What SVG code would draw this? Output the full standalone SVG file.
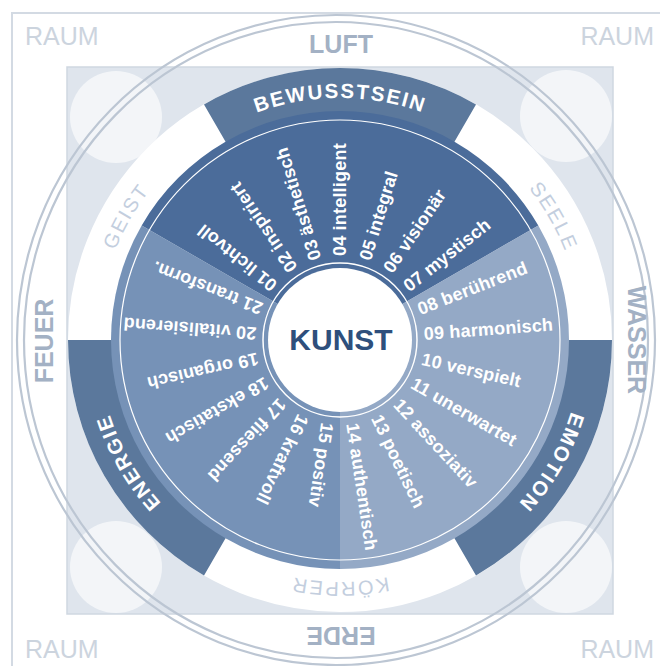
<svg xmlns="http://www.w3.org/2000/svg" width="660" height="666" viewBox="0 0 660 666">
  <style>
    text { font-family: "Liberation Sans", Arial, sans-serif; }
    .frame { fill: none; stroke: #d3dae3; stroke-width: 2; }
    .ring { fill: none; stroke: #bcc6d3; stroke-width: 2.2; }
    .corner { fill: #ffffff; fill-opacity: 0.62; }
    .band { fill: #5b789c; }
    .raum { font-size: 25px; fill: #ccd4de; }
    .elem { font-size: 25px; font-weight: bold; fill: #a3b1c4; }
    .dark-lbl { font-size: 20.5px; font-weight: bold; fill: #ffffff; letter-spacing: 1.8px; }
    .light-lbl { font-size: 20px; fill: #c3cede; letter-spacing: 2px; }
    .seg { font-size: 18px; font-weight: bold; fill: #ffffff; letter-spacing: 0.2px; }
  </style>
  <defs>
    <!-- clockwise baseline arcs (r=242) centred on each band -->
    <path id="arcTop" d="M130.42,219 A242,242 0 0 1 549.58,219"/>
    <path id="arcSeele" d="M340,98 A242,242 0 0 1 549.58,461"/>
    <path id="arcEmotion" d="M549.58,219 A242,242 0 0 1 340,582"/>
    <path id="arcKoerper" d="M549.58,461 A242,242 0 0 1 130.42,461"/>
    <path id="arcEnergie" d="M340,582 A242,242 0 0 1 130.42,219"/>
    <path id="arcGeist" d="M130.42,461 A242,242 0 0 1 340,98"/>
  </defs>

  <rect width="660" height="666" fill="#ffffff"/>

  <!-- outer frame -->
  <g id="frame">
    <path class="frame" d="M12,666 L12,13 L660,13"/>
  </g>

  <!-- inner square with corner discs -->
  <g id="square">
    <rect x="67" y="67" width="546" height="547" fill="#dfe5ed" stroke="#cfd7e1" stroke-width="1.5"/>
    <circle class="corner" cx="116" cy="117" r="46"/>
    <circle class="corner" cx="566" cy="116" r="46"/>
    <circle class="corner" cx="116" cy="567" r="46"/>
    <circle class="corner" cx="566" cy="567" r="46"/>
  </g>

  <!-- double outer ring -->
  <g id="outer-ring">
    <ellipse class="ring" cx="336" cy="340" rx="312" ry="318"/>
    <ellipse class="ring" cx="336" cy="340" rx="319" ry="325"/>
  </g>

  <!-- corner labels -->
  <g id="raum">
    <text class="raum" x="25" y="45">RAUM</text>
    <text class="raum" x="654" y="45" text-anchor="end">RAUM</text>
    <text class="raum" x="25" y="658">RAUM</text>
    <text class="raum" x="654" y="658" text-anchor="end">RAUM</text>
  </g>

  <!-- element labels -->
  <g id="elements">
    <text class="elem" x="341" y="53" text-anchor="middle">LUFT</text>
    <text class="elem" transform="translate(628,340) rotate(90)" text-anchor="middle">WASSER</text>
    <text class="elem" transform="translate(341,627) rotate(180)" text-anchor="middle">ERDE</text>
    <text class="elem" transform="translate(53,341) rotate(-90)" text-anchor="middle">FEUER</text>
  </g>

  <!-- band ring -->
  <g id="bands">
    <circle cx="340" cy="340" r="250" fill="none" stroke="#ffffff" stroke-width="44"/>
    <path id="band-bewusstsein" class="band" d="M204,104.44 A272,272 0 0 1 476,104.44 L454,142.55 A228,228 0 0 0 226,142.55 Z"/>
    <path id="band-emotion" class="band" d="M612,340 A272,272 0 0 1 476,575.56 L454,537.45 A228,228 0 0 0 568,340 Z"/>
    <path id="band-energie" class="band" d="M204,575.56 A272,272 0 0 1 68,340 L112,340 A228,228 0 0 0 226,537.45 Z"/>
    <text class="dark-lbl"><textPath href="#arcTop" startOffset="50%" text-anchor="middle">BEWUSSTSEIN</textPath></text>
    <text class="dark-lbl"><textPath href="#arcEmotion" startOffset="50%" text-anchor="middle">EMOTION</textPath></text>
    <text class="dark-lbl"><textPath href="#arcEnergie" startOffset="50%" text-anchor="middle">ENERGIE</textPath></text>
    <text class="light-lbl"><textPath href="#arcSeele" startOffset="50%" text-anchor="middle">SEELE</textPath></text>
    <text class="light-lbl"><textPath href="#arcKoerper" startOffset="50%" text-anchor="middle">KÖRPER</textPath></text>
    <text class="light-lbl"><textPath href="#arcGeist" startOffset="50%" text-anchor="middle">GEIST</textPath></text>
  </g>

  <!-- segment disc -->
  <g id="segments">
    <path d="M340,340 L141.68,225.5 A229,229 0 0 1 538.32,225.5 Z" fill="#4b6c9a"/>
    <path d="M340,340 L538.32,225.5 A229,229 0 0 1 340,569 Z" fill="#94a9c6"/>
    <path d="M340,340 L340,569 A229,229 0 0 1 141.68,225.5 Z" fill="#7692b7"/>
    <circle cx="340" cy="340" r="220" fill="none" stroke="#ffffff" stroke-width="1.2"/>
    <circle cx="340" cy="340" r="77" fill="none" stroke="#ffffff" stroke-width="1.5"/>
  </g>

  <!-- segment labels, radial -->
  <g id="segment-labels">
    <text class="seg" x="424" y="340" dy=".35em" transform="rotate(218.571 340 340)">01 lichtvoll</text>
    <text class="seg" x="424" y="340" dy=".35em" transform="rotate(235.714 340 340)">02 inspiriert</text>
    <text class="seg" x="424" y="340" dy=".35em" transform="rotate(252.857 340 340)">03 ästhetisch</text>
    <text class="seg" x="424" y="340" dy=".35em" transform="rotate(270 340 340)">04 intelligent</text>
    <text class="seg" x="424" y="340" dy=".35em" transform="rotate(287.143 340 340)">05 integral</text>
    <text class="seg" x="424" y="340" dy=".35em" transform="rotate(304.286 340 340)">06 visionär</text>
    <text class="seg" x="424" y="340" dy=".35em" transform="rotate(321.429 340 340)">07 mystisch</text>
    <text class="seg" x="424" y="340" dy=".35em" transform="rotate(338.571 340 340)">08 berührend</text>
    <text class="seg" x="424" y="340" dy=".35em" transform="rotate(355.714 340 340)">09 harmonisch</text>
    <text class="seg" x="424" y="340" dy=".35em" transform="rotate(12.857 340 340)">10 verspielt</text>
    <text class="seg" x="424" y="340" dy=".35em" transform="rotate(30 340 340)">11 unerwartet</text>
    <text class="seg" x="424" y="340" dy=".35em" transform="rotate(47.143 340 340)">12 assoziativ</text>
    <text class="seg" x="424" y="340" dy=".35em" transform="rotate(64.286 340 340)">13 poetisch</text>
    <text class="seg" x="424" y="340" dy=".35em" transform="rotate(81.429 340 340)">14 authentisch</text>
    <text class="seg" x="424" y="340" dy=".35em" transform="rotate(98.571 340 340)">15 positiv</text>
    <text class="seg" x="424" y="340" dy=".35em" transform="rotate(115.714 340 340)">16 kraftvoll</text>
    <text class="seg" x="424" y="340" dy=".35em" transform="rotate(132.857 340 340)">17 fliessend</text>
    <text class="seg" x="424" y="340" dy=".35em" transform="rotate(150 340 340)">18 ekstatisch</text>
    <text class="seg" x="424" y="340" dy=".35em" transform="rotate(167.143 340 340)">19 organisch</text>
    <text class="seg" x="424" y="340" dy=".35em" transform="rotate(184.286 340 340)">20 vitalisierend</text>
    <text class="seg" x="424" y="340" dy=".35em" transform="rotate(201.429 340 340)">21 transform.</text>
  </g>

  <!-- centre -->
  <g id="kunst">
    <circle cx="340" cy="340" r="72" fill="#ffffff"/>
    <text x="341" y="350" text-anchor="middle" font-size="30" font-weight="bold" fill="#2e4f7c">KUNST</text>
  </g>
</svg>
